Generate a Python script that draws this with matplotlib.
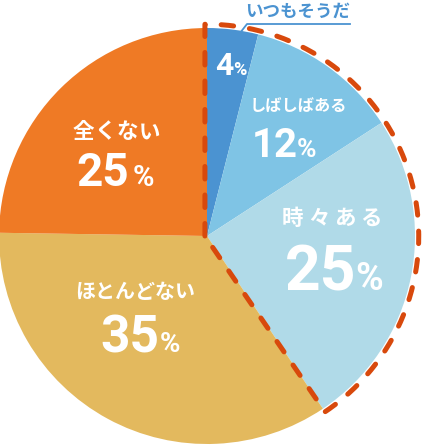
import numpy as np
import matplotlib.pyplot as plt

plt.rcParams['font.family'] = ['Noto Sans CJK JP', 'DejaVu Sans']

# data
labels = ['いつもそうだ', 'しばしばある', '時々ある', 'ほとんどない', '全くない']
values = [4, 12, 25, 35, 25]
colors = ['#4b93d1', '#7fc4e5', '#b0dae8', '#e3b95e', '#ef7a25']
highlight_n = 3  # first three slices get the dashed outline

W, H = 422, 448
CX, CY, R = 207, 236, 208


def px(x, y):
    # pixel position -> data coords (pie radius = 1)
    return (x - CX) / R, (CY - y) / R


def name(ax, s, cx, step, y, size, color):
    # some labels are letter-spaced, those get placed char by char
    if not step:
        ax.text(*px(cx, y), s, color=color, fontsize=size, fontweight='bold',
                ha='center', va='center')
        return
    x0 = cx - step * (len(s) - 1) / 2
    for i, ch in enumerate(s):
        ax.text(*px(x0 + i * step, y), ch, color=color, fontsize=size,
                fontweight='bold', ha='center', va='center')


def number(ax, val, right, base, size, psize, gap=0):
    ax.text(*px(right, base), str(val), color='white', fontsize=size,
            family='Roboto', fontweight='bold', ha='right', va='baseline')
    ax.text(*px(right + gap, base), '%', color='white', fontsize=psize,
            family='Roboto', fontweight='bold', ha='left', va='baseline')


fig = plt.figure(figsize=(W / 100, H / 100), dpi=100)
ax = fig.add_axes([0, 0, 1, 1])
ax.pie(values, colors=colors, startangle=90, counterclock=False, radius=1,
       wedgeprops=dict(linewidth=0))
ax.set_xlim(-CX / R, (W - CX) / R)
ax.set_ylim(-(H - CY) / R, CY / R)
ax.set_aspect('auto')
ax.axis('off')

# dashed outline round the first three slices
frac = sum(values[:highlight_n]) / sum(values)
t = np.linspace(90, 90 - 360 * frac, 200)
r_out = 1.018
xs = np.concatenate([[-0.01], r_out * np.cos(np.radians(t)), [-0.01]])
ys = np.concatenate([[0.0], r_out * np.sin(np.radians(t)), [0.0]])
xs[1] -= 0.01
ax.plot(xs, ys, color='#d8490c', lw=3.6, linestyle=(0, (2.5, 3.2)),
        dash_capstyle='round', solid_joinstyle='round')

# name: (centre x, char step or 0, y, size); number: (right, baseline, size, % size, gap)
name_layout = [
    (297.5, 0, 12, 12.6),
    (298.5, 0, 106, 11.7),
    (331.5, 26, 218, 15.5),
    (135, 0, 291, 14.4),
    (116.5, 22.3, 132, 15.5),
]
num_layout = [
    (234, 75, 23, 13, -1),
    (298, 157, 29, 19, -1),
    (356, 290, 45, 27, -1),
    (159, 352, 37, 20, 1),
    (129, 186, 33, 21, 4),
]
name_colors = [colors[0], 'white', 'white', 'white', 'white']
for lab, val, nl, ml, nc in zip(labels, values, name_layout, num_layout, name_colors):
    name(ax, lab, *nl, nc)
    number(ax, val, *ml)

# leader under the first label
lx, ly = zip(px(240, 33), px(247, 24), px(350, 24))
ax.plot(lx, ly, color=colors[0], lw=1.3)

fig.savefig('out.png', dpi=100)
